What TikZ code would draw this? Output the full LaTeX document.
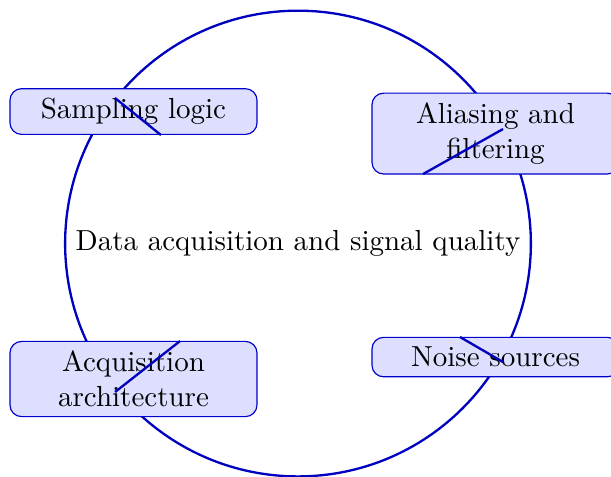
\documentclass[tikz,border=0pt]{standalone}
\usepackage{tikz}

\begin{document}
\begin{tikzpicture}[
    hub/.style={circle, draw=blue!75!black, thick},
    topic/.style={draw=blue!80!black, fill=blue!13, rounded corners=4pt,
        text width=2.76cm, align=center},
    link/.style={draw=blue!75!black, thick}
  ]
            \useasboundingbox (-3.612,-2.818) rectangle (3.794,2.952);
            \node[hub] (quality) at (0,0) {Data acquisition and signal quality};
            \node[topic] (sampling) at (-1.994,1.6) {Sampling logic};
            \node[topic] (aliasing) at (2.394,1.333) {Aliasing and filtering};
            \node[topic] (architecture) at (-1.994,-1.642) {Acquisition architecture};
            \node[topic] (noise) at (2.394,-1.376) {Noise sources};
            % short strokes over the boxes
            \coordinate (s1) at (-2.218,1.764);
            \coordinate (s2) at (-1.661,1.315);
            \coordinate (a1) at (1.515,0.842);
            \coordinate (a2) at (2.485,1.388);
            \coordinate (c1) at (-1.430,-1.182);
            \coordinate (c2) at (-2.218,-1.8);
            \coordinate (n1) at (1.964,-1.133);
            \coordinate (n2) at (2.485,-1.436);
            \draw[link] (s1) -- (s2);
            \draw[link] (a1) -- (a2);
            \draw[link] (c1) -- (c2);
            \draw[link] (n1) -- (n2);
        \end{tikzpicture}
\end{document}
